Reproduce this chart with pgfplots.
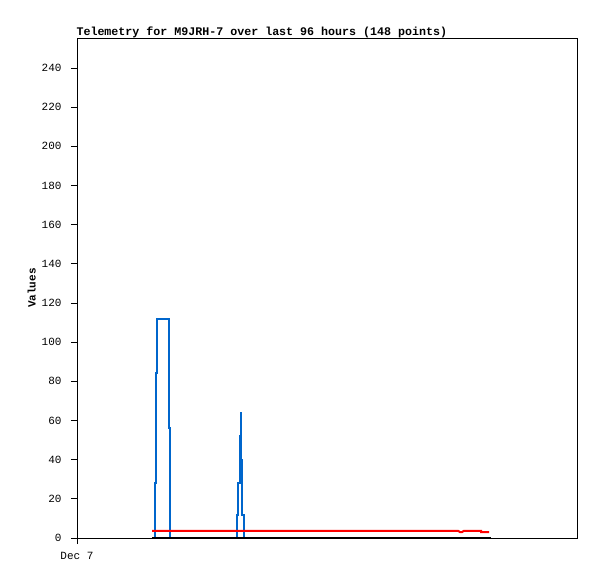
\documentclass[border=0pt]{standalone}
\usepackage{pgfplots}
\pgfplotsset{compat=1.18}
\usepackage{fontspec}
\setmainfont{Liberation Mono}
\definecolor{tblue}{HTML}{0066CC}
\begin{document}
\begin{tikzpicture}[x=1pt,y=1pt]
\begin{axis}[
  scale only axis, width=500pt, height=500pt,
  xmin=0, xmax=500, ymin=0, ymax=255.3,
  ytick={0,20,...,240},
  xtick={0}, xticklabels={Dec 7},
  tick align=outside, major tick length=6pt,
  xtick pos=bottom, ytick pos=left,
  tick style={black, line width=0.8pt},
  axis line style={line width=0.8pt},
  font=\fontsize{11}{12}\selectfont,
  ticklabel style={font=\fontsize{11}{12}\selectfont},
  /pgf/number format/assume math mode=true,
  yticklabel style={xshift=-6pt},
  xticklabel style={yshift=-5pt},
  ylabel={\bfseries Values}, ylabel style={yshift=-1pt},
  title={\fontsize{11.65}{13}\selectfont\bfseries Telemetry for M9JRH-7 over last 96 hours (148 points)},
  title style={anchor=south west, at={(0,1)}, yshift=-9pt, xshift=-4pt},
  clip=false,
]
\addplot[tblue, line width=2pt] coordinates {
(75,0)(77.7,0)(77.7,28)(79,28)(79,84)(80,84)(80,112)(92.3,112)(92.3,56)(93.3,56)(93.3,0)
(159.7,0)(159.7,12)(161.3,12)(161.3,28)(162.7,28)(162.7,52)(163.7,52)(163.7,64)(164.3,64)(164.3,40)(165.3,40)(165.3,12)(166.7,12)(166.7,0)(414,0)};
\addplot[red, line width=2pt] coordinates {
(75,3.7)(381,3.7)(383,3.0)(385,3.0)(387,3.7)(404,3.7)(404,3.0)(412,3.0)};
\addplot[black, line width=2pt] coordinates {(75,0)(414,0)};
\end{axis}
\path[use as bounding box] (current axis.south west) ++(-77pt,-41pt) rectangle ++(597pt,579pt);
\end{tikzpicture}
\end{document}
